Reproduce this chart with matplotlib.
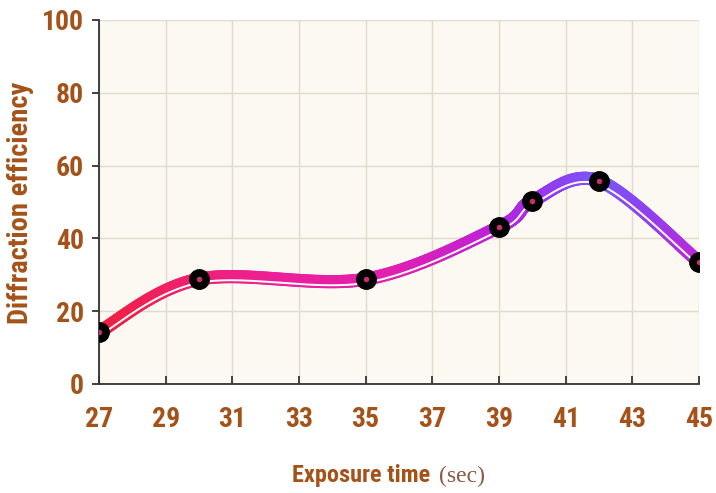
import numpy as np
import matplotlib
matplotlib.use("Agg")
import matplotlib.pyplot as plt
from matplotlib.collections import LineCollection
from matplotlib.colors import LinearSegmentedColormap
import matplotlib.transforms as mtransforms

# data
exposure = [27, 30, 35, 39, 40, 42, 45]
efficiency = [14.3, 28.8, 28.8, 43.1, 50.3, 55.8, 33.5]
x_ticks = [27, 29, 31, 33, 35, 37, 39, 41, 43, 45]
y_ticks = [0, 20, 40, 60, 80, 100]

brown = "#A4521A"
narrow = ["Roboto Condensed", "PT Sans Narrow", "DejaVu Sans"]


def smooth_curve(x, y, steps=60):
    # excel style smoothed line: bezier pieces with catmull-rom handles
    p = np.column_stack([x, y]).astype(float)
    p = np.vstack([p[0], p, p[-1]])
    out = []
    t = np.linspace(0, 1, steps)[:, None]
    for i in range(1, len(p) - 2):
        p0, p3 = p[i], p[i + 1]
        p1 = p0 + (p[i + 1] - p[i - 1]) / 6
        p2 = p3 - (p[i + 2] - p[i]) / 6
        seg = ((1 - t) ** 3) * p0 + 3 * ((1 - t) ** 2) * t * p1 + 3 * (1 - t) * t ** 2 * p2 + t ** 3 * p3
        out.append(seg if i == 1 else seg[1:])
    out = np.vstack(out)
    return out[:, 0], out[:, 1]


fig = plt.figure(figsize=(7.16, 4.93), dpi=100)
ax = fig.add_axes([99 / 716, 1 - 384 / 493, 600 / 716, 364 / 493])
ax.set_facecolor("#FCF8F2")

xs, ys = smooth_curve(exposure, efficiency)

cmap = LinearSegmentedColormap.from_list(
    "grad",
    [(0.0, "#F0203A"), (0.15, "#F02070"), (0.3, "#EC209A"), (0.5, "#E020B0"),
     (0.67, "#BC22D8"), (0.74, "#9A34F2"), (0.84, "#7858F8"), (0.92, "#9040EE"), (1.0, "#BC28D8")])
pts = np.column_stack([xs, ys]).reshape(-1, 1, 2)
segs = np.concatenate([pts[:-1], pts[1:]], axis=1)
lc = LineCollection(segs, cmap=cmap, linewidth=9.5, capstyle="round", zorder=3)
lc.set_array((xs[:-1] - xs[0]) / (xs[-1] - xs[0]))
lc.set_clim(0, 1)
ax.add_collection(lc)

# thin white highlight in the lower part of the band
shift = mtransforms.offset_copy(ax.transData, fig=fig, x=0, y=-2.6, units="points")
ax.plot(xs, ys, color="white", lw=1.4, transform=shift, zorder=4)

ax.plot(exposure, efficiency, "o", ms=14, mfc="black", mec="black", zorder=5)
ax.plot(exposure, efficiency, "o", ms=4, mfc="#C8306A", mec="none", zorder=6)

ax.set_xlim(27, 45)
ax.set_ylim(0, 100)
ax.set_xticks(x_ticks)
ax.set_yticks(y_ticks)
ax.grid(True, color="#E2DACA", lw=1)
ax.set_axisbelow(True)

for s in ["top", "right"]:
    ax.spines[s].set_visible(False)
for s in ["left", "bottom"]:
    ax.spines[s].set_color("#333333")
    ax.spines[s].set_linewidth(1.3)

ax.tick_params(axis="y", direction="out", length=5, width=1.3, color="#333333", pad=6)
ax.tick_params(axis="x", direction="in", length=6, width=1.3, color="#333333", pad=16)
for lab in ax.get_xticklabels() + ax.get_yticklabels():
    lab.set_fontfamily(narrow)
    lab.set_fontweight("bold")
    lab.set_fontsize(20)
    lab.set_color(brown)

fig.text(0.028, 0.588, "Diffraction efficiency", rotation=90, ha="center", va="center",
         fontsize=20.5, fontweight="bold", color=brown, family=narrow)
fig.text(0.601, 0.022, "Exposure time", ha="right", va="baseline",
         fontsize=17.5, fontweight="bold", color=brown, family=narrow)
fig.text(0.613, 0.022, "(sec)", ha="left", va="baseline",
         fontsize=17, color="#8A5A48", family=["Liberation Serif", "DejaVu Serif"])

fig.savefig("out.png", dpi=100)
